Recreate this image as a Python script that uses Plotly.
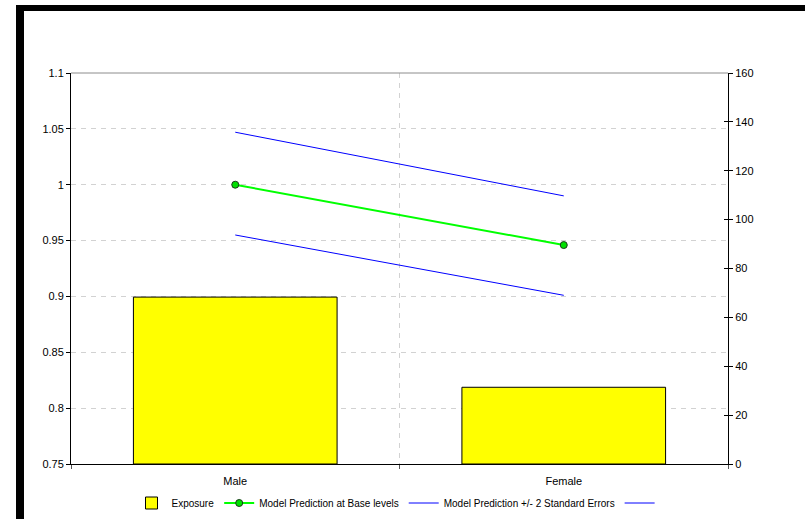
import plotly.graph_objects as go

# Categories and series values
categories = ["Male", "Female"]
exposure = [68.3, 31.4]
prediction = [1.0, 0.946]
upper_se = [1.047, 0.990]
lower_se = [0.955, 0.901]

left_ticks = [0.75, 0.8, 0.85, 0.9, 0.95, 1.0, 1.05, 1.1]
left_labels = ["0.75", "0.8", "0.85", "0.9", "0.95", "1", "1.05", "1.1"]
right_ticks = [0, 20, 40, 60, 80, 100, 120, 140, 160]

FONT = "Liberation Sans, Arial, sans-serif"
GRID = "#d2d2d2"

fig = go.Figure()

fig.add_trace(go.Bar(
    x=categories, y=exposure, name="Exposure", yaxis="y2",
    marker=dict(color="#FFFF00", line=dict(color="#000000", width=1)),
))
fig.add_trace(go.Scatter(
    x=categories, y=prediction, name="Model Prediction at Base levels",
    mode="lines+markers",
    line=dict(color="#00FF00", width=2),
    marker=dict(color="#00E000", size=7, line=dict(color="#1a3a1a", width=1)),
))
fig.add_trace(go.Scatter(
    x=categories, y=upper_se, name="Model Prediction +/- 2 Standard Errors",
    mode="lines", line=dict(color="#0000FF", width=1),
))
fig.add_trace(go.Scatter(
    x=categories, y=lower_se, name=" ",
    mode="lines", line=dict(color="#0000FF", width=1),
))

# frame: plot area spans x 71..728, y 73..464 in an 805x519 page
L, R, T, B = 71, 77, 73, 55
W, H = 805, 519
pw, ph = W - L - R, H - T - B


def px_x(v):
    return (v - L) / pw


def px_y(v):
    return (H - B - v) / ph


shapes = [
    # top edge of the plot area
    dict(type="line", xref="paper", yref="paper", x0=0, x1=1, y0=1, y1=1,
         line=dict(color="#8c8c8c", width=1)),
    # heavy black border at top and left of the page
    dict(type="rect", xref="paper", yref="paper", x0=px_x(16), x1=px_x(806),
         y0=px_y(11), y1=px_y(5), fillcolor="#000000", line=dict(width=0)),
    dict(type="rect", xref="paper", yref="paper", x0=px_x(16), x1=px_x(24),
         y0=px_y(520), y1=px_y(5), fillcolor="#000000", line=dict(width=0)),
]

fig.update_layout(
    width=W, height=H,
    margin=dict(l=L, r=R, t=T, b=B, autoexpand=False),
    paper_bgcolor="white", plot_bgcolor="white",
    font=dict(family=FONT, size=11, color="#000000"),
    bargap=0.38,
    showlegend=True,
    legend=dict(orientation="h", x=0.5, xanchor="center", y=px_y(503), yanchor="middle",
                font=dict(size=10, family=FONT), itemwidth=30, tracegroupgap=0,
                bgcolor="rgba(0,0,0,0)"),
    xaxis=dict(
        type="category", tickson="boundaries", range=[-0.5, 1.5],
        showgrid=True, gridcolor=GRID, griddash="5px,5px", gridwidth=1,
        ticks="outside", ticklen=4, tickcolor="#555555",
        showline=True, linecolor="#000000", linewidth=1,
        tickfont=dict(size=11), zeroline=False, ticklabelstandoff=7,
    ),
    yaxis=dict(
        range=[0.75, 1.1], tickvals=left_ticks, ticktext=left_labels,
        showgrid=True, gridcolor=GRID, griddash="5px,5px", gridwidth=1,
        ticks="outside", ticklen=4, tickcolor="#000000",
        showline=True, linecolor="#000000", linewidth=1,
        zeroline=False, tickfont=dict(size=11),
    ),
    yaxis2=dict(
        range=[0, 160], tickvals=right_ticks, overlaying="y", side="right",
        showgrid=False, ticks="outside", ticklen=4, tickcolor="#000000",
        showline=True, linecolor="#000000", linewidth=1,
        zeroline=False, tickfont=dict(size=11),
    ),
    yaxis3=dict(
        range=[0, 160], tickvals=right_ticks, overlaying="y", side="right",
        showgrid=False, ticks="inside", ticklen=4, tickcolor="#000000",
        showticklabels=False, showline=False, zeroline=False,
    ),
    shapes=shapes,
)

# keep the inner tick axis drawn
fig.add_trace(go.Scatter(x=categories, y=[None, None], yaxis="y3", showlegend=False,
                         hoverinfo="skip", mode="lines"))

fig.write_html("out.html")
